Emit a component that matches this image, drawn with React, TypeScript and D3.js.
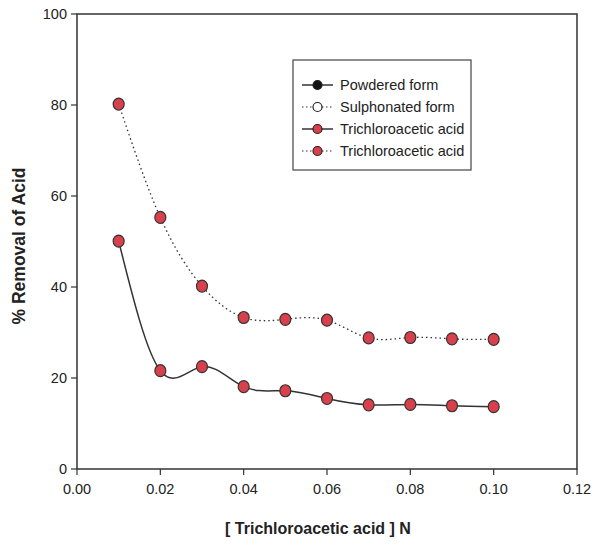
import React from "react";
import * as d3 from "d3";

const concentrations = [0.01, 0.02, 0.03, 0.04, 0.05, 0.06, 0.07, 0.08, 0.09, 0.1];
const powderedValues = [50.1, 21.6, 22.5, 18.1, 17.2, 15.5, 14.1, 14.2, 13.9, 13.7];
const sulphonatedValues = [80.2, 55.3, 40.2, 33.3, 32.9, 32.7, 28.8, 28.9, 28.6, 28.5];
const xTicks = [0, 0.02, 0.04, 0.06, 0.08, 0.1, 0.12];
const yTicks = [0, 20, 40, 60, 80, 100];
const legendItems = [
  { label: "Powdered form", dash: false, fill: "#111" },
  { label: "Sulphonated form", dash: true, fill: "#fff" },
  { label: "Trichloroacetic acid", dash: false, fill: "#d8414c" },
  { label: "Trichloroacetic acid", dash: true, fill: "#d8414c" },
];

const W = 600;
const H = 547;
const left = 77;
const right = 577;
const top = 14;
const bottom = 469;

export default function App() {
  const x = d3.scaleLinear().domain([0, 0.12]).range([left, right]);
  const y = d3.scaleLinear().domain([0, 100]).range([bottom, top]);
  const line = d3
    .line<number>()
    .x((_, i) => x(concentrations[i]))
    .y((d) => y(d))
    .curve(d3.curveNatural);
  const font = "'Liberation Sans Narrow', 'Liberation Sans', Arial, sans-serif";
  const red = "#d8414c";
  return (
    <svg width={W} height={H} style={{ position: "absolute", left: 0, top: 0, background: "#fff" }}>
      <rect x={left} y={top} width={right - left} height={bottom - top} fill="none" stroke="#333" strokeWidth={1.5} />
      {xTicks.map((t) => (
        <g key={"x" + t}>
          <line x1={x(t)} x2={x(t)} y1={bottom} y2={bottom + 6} stroke="#333" strokeWidth={1.2} />
          <text x={x(t)} y={bottom + 25} textAnchor="middle" fontFamily={font} fontSize={14.5} fill="#222">
            {t.toFixed(2)}
          </text>
        </g>
      ))}
      {yTicks.map((t) => (
        <g key={"y" + t}>
          <line x1={left - 6} x2={left} y1={y(t)} y2={y(t)} stroke="#333" strokeWidth={1.2} />
          <text x={left - 10} y={y(t) + 5} textAnchor="end" fontFamily={font} fontSize={14.5} fill="#222">
            {t}
          </text>
        </g>
      ))}
      <path d={line(sulphonatedValues) || ""} fill="none" stroke="#333" strokeWidth={1.3} strokeDasharray="1.5,3" />
      <path d={line(powderedValues) || ""} fill="none" stroke="#333" strokeWidth={1.5} />
      {sulphonatedValues.map((v, i) => (
        <ellipse key={"s" + i} cx={x(concentrations[i])} cy={y(v)} rx={5.5} ry={6} fill={red} stroke="#333" strokeWidth={1.2} />
      ))}
      {powderedValues.map((v, i) => (
        <ellipse key={"p" + i} cx={x(concentrations[i])} cy={y(v)} rx={5.5} ry={6} fill={red} stroke="#333" strokeWidth={1.2} />
      ))}
      <rect x={293} y={60} width={178} height={110} fill="#fff" stroke="#444" strokeWidth={1.2} />
      {legendItems.map((it, i) => {
        const cy = 85 + i * 22;
        return (
          <g key={"l" + i}>
            <line x1={302} x2={333} y1={cy} y2={cy} stroke="#333" strokeWidth={it.dash ? 1 : 1.5} strokeDasharray={it.dash ? "1.5,2.5" : undefined} />
            <circle cx={317.5} cy={cy} r={4.5} fill={it.fill} stroke="#222" strokeWidth={1.2} />
            <text x={340} y={cy + 5} fontFamily="'Liberation Sans', Arial, sans-serif" fontSize={14.5} fill="#222">
              {it.label}
            </text>
          </g>
        );
      })}
      <text x={318} y={534} textAnchor="middle" fontFamily="'Liberation Sans', Arial, sans-serif" fontWeight="bold" fontSize={16} fill="#222">
        [ Trichloroacetic acid ] N
      </text>
      <text transform="translate(25,246) rotate(-90)" textAnchor="middle" fontFamily="'Liberation Sans', Arial, sans-serif" fontWeight="bold" fontSize={17.5} fill="#222">
        % Removal of Acid
      </text>
    </svg>
  );
}
